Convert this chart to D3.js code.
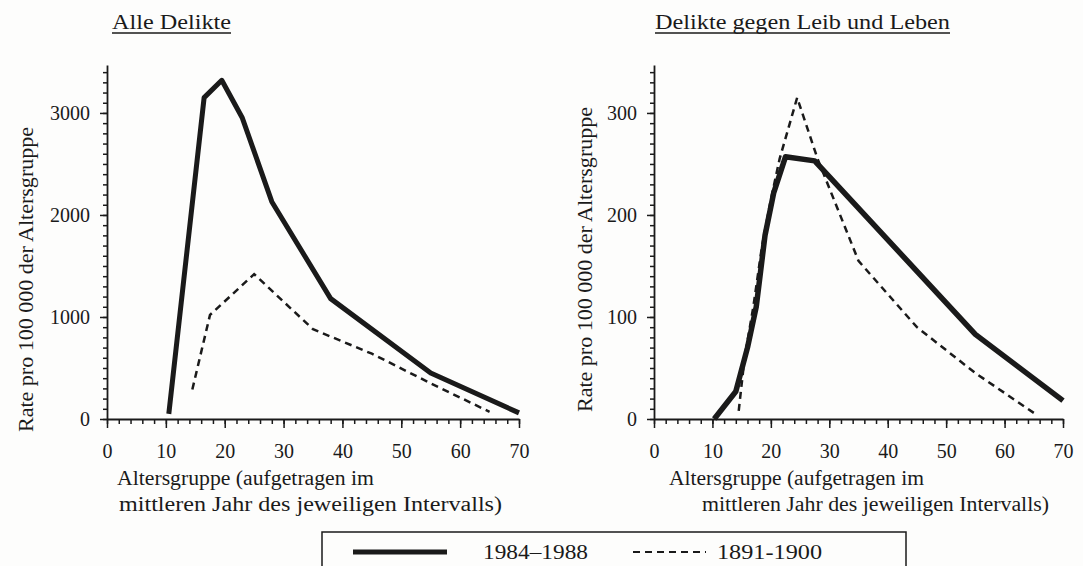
<!DOCTYPE html>
<html>
<head>
<meta charset="utf-8">
<script src="https://cdn.jsdelivr.net/npm/d3@7/dist/d3.min.js"></script>
<style>
  html, body { margin: 0; padding: 0; background: #fdfdfc; }
  svg { display: block; }
  text { font-family: "Liberation Serif", "Times New Roman", serif; fill: #1a1a1a; }
</style>
</head>
<body>
<svg id="chart" width="1083" height="566"></svg>
<script>
// Age group (mid-year of interval) and rate per 100 000 of the age group
const allAge8488   = [10.5, 16.5, 19.5, 23, 28, 38, 55, 70];
const allRate8488  = [50, 3150, 3320, 2950, 2130, 1180, 450, 60];
const allAge1891   = [14.5, 17.5, 25, 35, 45, 55, 65];
const allRate1891  = [290, 1020, 1420, 880, 640, 350, 70];

const bodyAge8488  = [10.3, 14, 16, 17.5, 19, 20.5, 22.5, 27.5, 55, 70];
const bodyRate8488 = [0, 27, 70, 110, 180, 222, 257, 253, 83, 18];
const bodyAge1891  = [14.5, 15.5, 17, 18.5, 20, 21.5, 24.5, 28, 35, 45, 55, 65];
const bodyRate1891 = [8, 60, 110, 170, 215, 255, 315, 255, 155, 90, 45, 6];

const xTicks = [0, 10, 20, 30, 40, 50, 60, 70];
const allYTicks = [0, 1000, 2000, 3000];
const bodyYTicks = [0, 100, 200, 300];

const titles = ["Alle Delikte", "Delikte gegen Leib und Leben"];
const yLabel = "Rate pro 100 000 der Altersgruppe";
const xLabel1 = "Altersgruppe (aufgetragen im";
const xLabel2 = "mittleren Jahr des jeweiligen Intervalls)";
const legendNames = ["1984\u20131988", "1891-1900"];

const svg = d3.select("#chart");
const ink = "#1a1a1a";
const FONT = '"Liberation Serif", "Times New Roman", serif';

function panel(cfg) {
  const g = svg.append("g");
  const x = d3.scaleLinear().domain([0, 70]).range(cfg.xRange);
  const y = d3.scaleLinear().domain([0, cfg.yMax]).range([419, 65]);

  // minor ticks
  g.append("g").attr("transform", `translate(0,${y(0)})`)
    .call(d3.axisBottom(x).tickValues(d3.range(0, 71, 2)).tickSize(5).tickFormat(""))
    .call(a => a.select(".domain").remove());
  g.append("g").attr("transform", `translate(${x(0)},0)`)
    .call(d3.axisLeft(y).tickValues(d3.range(0, cfg.yMax, cfg.yMinor)).tickSize(4).tickFormat(""))
    .call(a => a.select(".domain").remove());

  // major ticks with labels
  const xa = g.append("g").attr("transform", `translate(0,${y(0)})`)
    .call(d3.axisBottom(x).tickValues(xTicks).tickSize(9).tickPadding(16)
      .tickSizeOuter(0).tickFormat(d3.format("d")));
  const ya = g.append("g").attr("transform", `translate(${x(0)},0)`)
    .call(d3.axisLeft(y).tickValues(cfg.yTicks).tickSize(7).tickPadding(10)
      .tickSizeOuter(0).tickFormat(d3.format("d")));
  [xa, ya].forEach(a => {
    a.attr("font-family", FONT).attr("font-size", 20);
    a.select(".domain").attr("stroke", ink).attr("stroke-width", 1.8);
    a.selectAll("text").attr("fill", ink);
  });
  g.selectAll(".tick line").attr("stroke", ink).attr("stroke-width", 1.5);

  const line = d3.line().x(d => x(d[0])).y(d => y(d[1]));
  g.append("path").datum(d3.zip(cfg.dAge, cfg.dRate))
    .attr("d", line).attr("fill", "none").attr("stroke", ink)
    .attr("stroke-width", 2.5).attr("stroke-dasharray", "7,5");
  g.append("path").datum(d3.zip(cfg.sAge, cfg.sRate))
    .attr("d", line).attr("fill", "none").attr("stroke", ink)
    .attr("stroke-width", cfg.solidW).attr("stroke-linejoin", "round");

  // title, underlined
  g.append("text").attr("x", cfg.titleX).attr("y", 29)
    .attr("font-size", 21).attr("textLength", cfg.titleW).attr("lengthAdjust", "spacingAndGlyphs")
    .text(cfg.title);
  g.append("line").attr("x1", cfg.titleX).attr("x2", cfg.titleX + cfg.titleW)
    .attr("y1", 33).attr("y2", 33).attr("stroke", ink).attr("stroke-width", 1.3);

  // y label
  g.append("text").attr("transform", `translate(${cfg.yLabelX},${cfg.yLabelY}) rotate(-90)`)
    .attr("x", -152).attr("font-size", 20)
    .attr("textLength", 305).attr("lengthAdjust", "spacingAndGlyphs").text(yLabel);

  // x label
  g.append("text").attr("x", cfg.xl1).attr("y", 485).attr("font-size", 20)
    .attr("textLength", cfg.xl1W).attr("lengthAdjust", "spacingAndGlyphs").text(xLabel1);
  g.append("text").attr("x", cfg.xl2).attr("y", 511).attr("font-size", 20)
    .attr("textLength", cfg.xl2W).attr("lengthAdjust", "spacingAndGlyphs").text(xLabel2);
}

panel({
  xRange: [107, 519], yMax: 3470, yMinor: 100, yTicks: allYTicks,
  sAge: allAge8488, sRate: allRate8488, dAge: allAge1891, dRate: allRate1891,
  solidW: 5, title: titles[0], titleX: 112, titleW: 119,
  yLabelX: 33, yLabelY: 280, xl1: 117, xl1W: 257, xl2: 119, xl2W: 383
});
panel({
  xRange: [654, 1063], yMax: 347, yMinor: 10, yTicks: bodyYTicks,
  sAge: bodyAge8488, sRate: bodyRate8488, dAge: bodyAge1891, dRate: bodyRate1891,
  solidW: 5.5, title: titles[1], titleX: 655, titleW: 295,
  yLabelX: 592, yLabelY: 260, xl1: 669, xl1W: 255, xl2: 702, xl2W: 347
});

// legend
const lg = svg.append("g");
lg.append("rect").attr("x", 322).attr("y", 532).attr("width", 584).attr("height", 44)
  .attr("fill", "none").attr("stroke", ink).attr("stroke-width", 1.5);
lg.append("line").attr("x1", 353).attr("x2", 447).attr("y1", 552).attr("y2", 552)
  .attr("stroke", ink).attr("stroke-width", 5);
lg.append("text").attr("x", 483).attr("y", 559).attr("font-size", 21)
  .attr("textLength", 105).attr("lengthAdjust", "spacingAndGlyphs").text(legendNames[0]);
lg.append("line").attr("x1", 633).attr("x2", 706).attr("y1", 552).attr("y2", 552)
  .attr("stroke", ink).attr("stroke-width", 2).attr("stroke-dasharray", "7,5");
lg.append("text").attr("x", 717).attr("y", 559).attr("font-size", 21)
  .attr("textLength", 105).attr("lengthAdjust", "spacingAndGlyphs").text(legendNames[1]);
</script>
</body>
</html>
